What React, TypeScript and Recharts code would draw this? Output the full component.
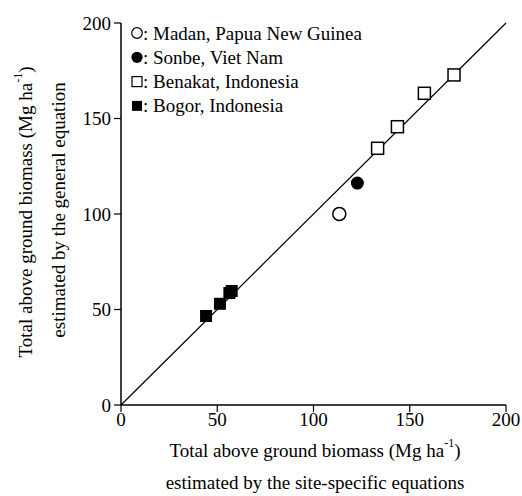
import { ScatterChart, Scatter, XAxis, YAxis, ReferenceLine } from "recharts";

// site-specific estimate (x) vs general equation estimate (y), Mg/ha
const madanX = [113.4];
const madanY = [100];
const sonbeX = [122.8];
const sonbeY = [116.2];
const benakatX = [133.3, 143.6, 157.6, 173];
const benakatY = [134.4, 145.7, 163.2, 172.8];
const bogorX = [44.2, 51.4, 56.3, 57.5];
const bogorY = [46.6, 53, 58.6, 59.7];
const axisTicks = [0, 50, 100, 150, 200];
const siteNames = ["Madan, Papua New Guinea", "Sonbe, Viet Nam", "Benakat, Indonesia", "Bogor, Indonesia"];

const toPoints = (xs: number[], ys: number[]) => xs.map((x, i) => ({ x, y: ys[i] }));

const FONT = "Liberation Serif";

const OpenCircle = (p: any) => <circle cx={p.cx} cy={p.cy} r={6.5} fill="#fff" stroke="#000" strokeWidth={1.5} />;
const FilledCircle = (p: any) => <circle cx={p.cx} cy={p.cy} r={6.5} fill="#000" />;
const OpenSquare = (p: any) => (
  <rect x={p.cx - 6} y={p.cy - 6} width={12} height={12} fill="#fff" stroke="#000" strokeWidth={1.5} />
);
const FilledSquare = (p: any) => <rect x={p.cx - 6} y={p.cy - 6} width={12} height={12} fill="#000" />;

const legendSymbols = [
  (x: number, y: number) => <circle cx={x} cy={y} r={5.3} fill="#fff" stroke="#000" strokeWidth={1.2} />,
  (x: number, y: number) => <circle cx={x} cy={y} r={5.6} fill="#000" />,
  (x: number, y: number) => <rect x={x - 5} y={y - 5} width={10} height={10} fill="#fff" stroke="#000" strokeWidth={1.2} />,
  (x: number, y: number) => <rect x={x - 5} y={y - 5} width={10} height={10} fill="#000" />,
];

const tickStyle = { fill: "#000", fontSize: 19, fontFamily: FONT };
const txt = { fontFamily: FONT, fontSize: 19 };

export default function App() {
  return (
    <div
      style={{ position: "absolute", left: 0, top: 0, width: 522, height: 496, background: "#fff", fontFamily: FONT }}
    >
      <ScatterChart width={522} height={496} margin={{ top: 23, right: 16, bottom: 0, left: 0 }} style={{ fontFamily: FONT }}>
        <XAxis
          type="number"
          dataKey="x"
          domain={[0, 200]}
          ticks={axisTicks}
          height={91}
          tickSize={7}
          tickMargin={1}
          axisLine={{ stroke: "#000", strokeWidth: 1.5 }}
          tickLine={{ stroke: "#000", strokeWidth: 1.2 }}
          tick={tickStyle}
        />
        <YAxis
          type="number"
          dataKey="y"
          domain={[0, 200]}
          ticks={axisTicks}
          width={121}
          tickSize={7}
          tickMargin={3}
          axisLine={{ stroke: "#000", strokeWidth: 1.5 }}
          tickLine={{ stroke: "#000", strokeWidth: 1.2 }}
          tick={tickStyle}
        />
        <ReferenceLine
          segment={[{ x: 0, y: 0 }, { x: 200, y: 200 }]}
          stroke="#000"
          strokeWidth={1.2}
        />
        <Scatter data={toPoints(madanX, madanY)} shape={OpenCircle} isAnimationActive={false} />
        <Scatter data={toPoints(sonbeX, sonbeY)} shape={FilledCircle} isAnimationActive={false} />
        <Scatter data={toPoints(benakatX, benakatY)} shape={OpenSquare} isAnimationActive={false} />
        <Scatter data={toPoints(bogorX, bogorY)} shape={FilledSquare} isAnimationActive={false} />
      </ScatterChart>

      <svg
        width={522}
        height={496}
        style={{ position: "absolute", left: 0, top: 0, pointerEvents: "none", fontFamily: FONT }}
        fill="#000"
      >
        {siteNames.map((name, i) => {
          const y = 33 + i * 24.3;
          return (
            <g key={name}>
              {legendSymbols[i](137, y)}
              <text x={143} y={y} fontFamily={FONT} style={txt} dominantBaseline="central">
                : {name}
              </text>
            </g>
          );
        })}

        <text x={315} y={450} fontFamily={FONT} style={txt} textAnchor="middle" dominantBaseline="central">
          Total above ground biomass (Mg ha<tspan dy={-7} fontSize={12}>-1</tspan>
          <tspan dy={7}>)</tspan>
        </text>
        <text x={315} y={482} fontFamily={FONT} style={txt} textAnchor="middle" dominantBaseline="central">
          estimated by the site-specific equations
        </text>

        <text
          x={25}
          y={212}
          fontFamily={FONT}
          style={txt}
          textAnchor="middle"
          dominantBaseline="central"
          transform="rotate(-90 25 212)"
        >
          Total above ground biomass (Mg ha<tspan dy={-7} fontSize={12}>-1</tspan>
          <tspan dy={7}>)</tspan>
        </text>
        <text
          x={58}
          y={210}
          fontFamily={FONT}
          style={txt}
          textAnchor="middle"
          dominantBaseline="central"
          transform="rotate(-90 58 210)"
        >
          estimated by the general equation
        </text>
      </svg>
    </div>
  );
}
